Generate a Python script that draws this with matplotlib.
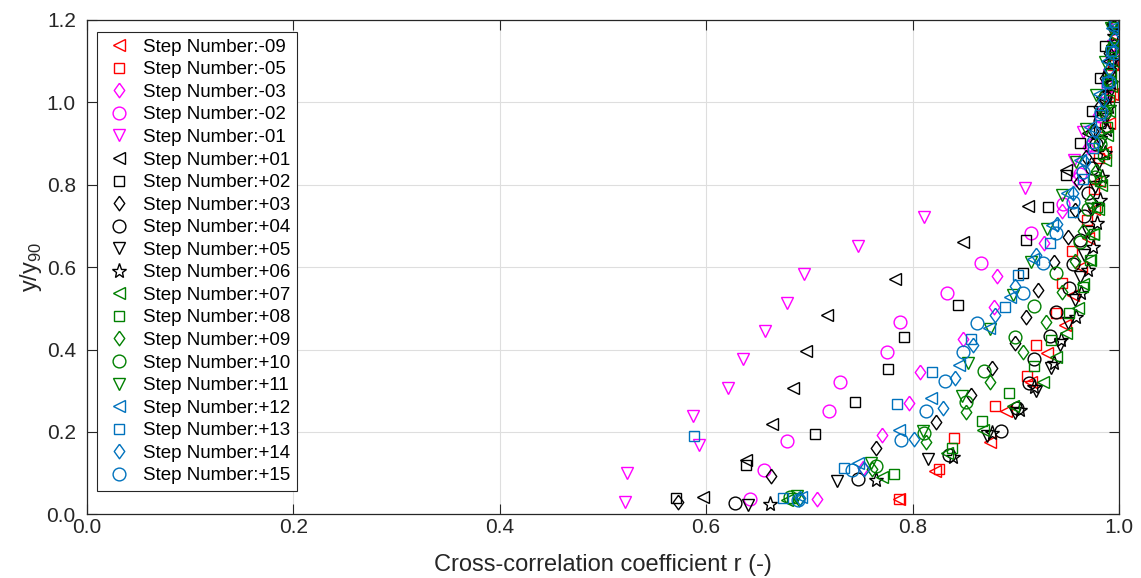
import matplotlib
matplotlib.use("Agg")
import matplotlib.pyplot as plt
from matplotlib.ticker import FormatStrFormatter

plt.rcParams['font.family'] = ['Liberation Sans', 'DejaVu Sans']
plt.rcParams['mathtext.fontset'] = 'custom'
plt.rcParams['mathtext.rm'] = 'Liberation Sans'

# ---- data: cross-correlation coefficient r vs normalised height y/y90 ----
r_m09 = [0.787, 0.822, 0.875, 0.891, 0.915, 0.930, 0.948, 0.955, 0.963, 0.970, 0.976, 0.981, 0.986, 0.990, 0.993, 0.996, 0.997]
y_m09 = [0.036, 0.105, 0.176, 0.251, 0.321, 0.391, 0.460, 0.532, 0.600, 0.670, 0.740, 0.810, 0.880, 0.950, 1.020, 1.090, 1.160]

r_m05 = [0.787, 0.826, 0.840, 0.880, 0.911, 0.920, 0.939, 0.945, 0.954, 0.969, 0.976, 0.981, 0.986, 0.991, 0.994, 0.997]
y_m05 = [0.036, 0.109, 0.186, 0.263, 0.336, 0.411, 0.489, 0.562, 0.638, 0.714, 0.790, 0.865, 0.940, 1.015, 1.090, 1.165]

r_m03 = [0.707, 0.752, 0.770, 0.797, 0.807, 0.849, 0.879, 0.882, 0.927, 0.945, 0.958, 0.970, 0.980, 0.987, 0.992]
y_m03 = [0.037, 0.112, 0.193, 0.270, 0.346, 0.425, 0.503, 0.579, 0.658, 0.736, 0.814, 0.892, 0.970, 1.050, 1.130]

r_m02 = [0.642, 0.656, 0.678, 0.719, 0.730, 0.775, 0.788, 0.833, 0.866, 0.915, 0.946, 0.962, 0.974, 0.983, 0.989, 0.993, 0.996]
y_m02 = [0.036, 0.108, 0.179, 0.251, 0.322, 0.395, 0.466, 0.538, 0.611, 0.682, 0.753, 0.825, 0.897, 0.968, 1.040, 1.110, 1.180]

r_m01 = [0.521, 0.523, 0.593, 0.587, 0.621, 0.636, 0.657, 0.678, 0.695, 0.747, 0.811, 0.909, 0.956, 0.965, 0.985, 0.990, 0.994, 0.996]
y_m01 = [0.031, 0.100, 0.168, 0.239, 0.307, 0.376, 0.445, 0.514, 0.583, 0.652, 0.722, 0.791, 0.860, 0.929, 0.998, 1.067, 1.136, 1.190]

r_p01 = [0.597, 0.639, 0.664, 0.684, 0.697, 0.717, 0.783, 0.849, 0.912, 0.949, 0.970, 0.984, 0.990, 0.994]
y_p01 = [0.043, 0.132, 0.219, 0.307, 0.396, 0.484, 0.571, 0.660, 0.748, 0.836, 0.925, 1.013, 1.100, 1.190]

r_p02 = [0.571, 0.639, 0.705, 0.744, 0.776, 0.792, 0.844, 0.907, 0.910, 0.931, 0.949, 0.962, 0.974, 0.982, 0.986]
y_p02 = [0.039, 0.120, 0.195, 0.273, 0.352, 0.431, 0.508, 0.587, 0.666, 0.747, 0.824, 0.902, 0.980, 1.058, 1.136]

r_p03 = [0.573, 0.663, 0.765, 0.823, 0.857, 0.877, 0.899, 0.910, 0.922, 0.937, 0.951, 0.957, 0.961, 0.968, 0.975, 0.981, 0.986, 0.990, 0.993]
y_p03 = [0.031, 0.094, 0.160, 0.225, 0.290, 0.354, 0.417, 0.480, 0.545, 0.613, 0.674, 0.738, 0.807, 0.868, 0.930, 0.990, 1.060, 1.120, 1.190]

r_p04 = [0.628, 0.747, 0.835, 0.886, 0.901, 0.913, 0.918, 0.933, 0.939, 0.952, 0.955, 0.962, 0.966, 0.970, 0.974, 0.978, 0.982, 0.986, 0.990, 0.993, 0.996]
y_p04 = [0.027, 0.085, 0.143, 0.202, 0.259, 0.318, 0.376, 0.433, 0.492, 0.549, 0.607, 0.665, 0.723, 0.780, 0.840, 0.898, 0.955, 1.013, 1.070, 1.130, 1.190]

r_p05 = [0.641, 0.727, 0.815, 0.872, 0.899, 0.920, 0.934, 0.943, 0.951, 0.957, 0.962, 0.966, 0.970, 0.974, 0.977, 0.980, 0.983, 0.986, 0.989, 0.991, 0.993, 0.995]
y_p05 = [0.023, 0.080, 0.134, 0.190, 0.245, 0.300, 0.354, 0.410, 0.465, 0.520, 0.575, 0.630, 0.685, 0.740, 0.795, 0.850, 0.905, 0.960, 1.015, 1.070, 1.125, 1.180]

r_p06 = [0.662, 0.765, 0.839, 0.877, 0.904, 0.918, 0.937, 0.944, 0.958, 0.963, 0.970, 0.975, 0.979, 0.982, 0.984, 0.986, 0.988, 0.990, 0.992, 0.994, 0.995]
y_p06 = [0.025, 0.083, 0.140, 0.197, 0.253, 0.310, 0.367, 0.423, 0.480, 0.537, 0.593, 0.650, 0.707, 0.763, 0.820, 0.877, 0.933, 0.990, 1.047, 1.103, 1.160]

r_p07 = [0.678, 0.770, 0.833, 0.868, 0.897, 0.926, 0.939, 0.949, 0.960, 0.965, 0.972, 0.975, 0.980, 0.983, 0.986, 0.988, 0.990, 0.992, 0.994, 0.996]
y_p07 = [0.035, 0.090, 0.148, 0.205, 0.262, 0.322, 0.383, 0.440, 0.500, 0.558, 0.617, 0.680, 0.740, 0.800, 0.860, 0.920, 0.980, 1.040, 1.100, 1.160]

r_p08 = [0.683, 0.782, 0.838, 0.867, 0.893, 0.918, 0.934, 0.952, 0.965, 0.972, 0.976, 0.979, 0.982, 0.985, 0.988, 0.990, 0.992, 0.994, 0.995]
y_p08 = [0.039, 0.097, 0.160, 0.226, 0.294, 0.360, 0.423, 0.488, 0.553, 0.617, 0.680, 0.745, 0.810, 0.875, 0.940, 1.005, 1.070, 1.135, 1.195]

r_p09 = [0.690, 0.761, 0.813, 0.852, 0.875, 0.907, 0.929, 0.945, 0.957, 0.965, 0.972, 0.978, 0.982, 0.986, 0.990, 0.993, 0.995]
y_p09 = [0.036, 0.109, 0.176, 0.249, 0.322, 0.395, 0.468, 0.540, 0.614, 0.687, 0.760, 0.833, 0.906, 0.980, 1.050, 1.125, 1.195]

r_p10 = [0.681, 0.765, 0.811, 0.852, 0.869, 0.899, 0.918, 0.939, 0.962, 0.970, 0.977, 0.982, 0.986, 0.990, 0.993]
y_p10 = [0.041, 0.118, 0.197, 0.273, 0.349, 0.430, 0.506, 0.585, 0.662, 0.740, 0.820, 0.898, 0.976, 1.054, 1.130]

r_p11 = [0.688, 0.760, 0.810, 0.848, 0.854, 0.875, 0.897, 0.915, 0.930, 0.945, 0.958, 0.968, 0.978, 0.986, 0.992]
y_p11 = [0.044, 0.124, 0.203, 0.286, 0.367, 0.449, 0.532, 0.613, 0.693, 0.775, 0.855, 0.936, 1.017, 1.097, 1.180]

r_p12 = [0.692, 0.747, 0.787, 0.818, 0.845, 0.874, 0.894, 0.917, 0.935, 0.950, 0.962, 0.972, 0.981, 0.988, 0.993]
y_p12 = [0.041, 0.125, 0.204, 0.283, 0.362, 0.452, 0.528, 0.619, 0.702, 0.780, 0.860, 0.940, 1.020, 1.100, 1.180]

r_p13 = [0.674, 0.734, 0.588, 0.785, 0.819, 0.857, 0.890, 0.902, 0.933, 0.955, 0.965, 0.975, 0.982, 0.988, 0.992, 0.995]
y_p13 = [0.039, 0.113, 0.190, 0.268, 0.346, 0.425, 0.503, 0.580, 0.658, 0.735, 0.813, 0.890, 0.970, 1.050, 1.125, 1.195]

r_p14 = [0.691, 0.753, 0.801, 0.829, 0.841, 0.859, 0.880, 0.899, 0.920, 0.940, 0.955, 0.967, 0.977, 0.985, 0.990, 0.995]
y_p14 = [0.039, 0.110, 0.184, 0.257, 0.330, 0.410, 0.484, 0.555, 0.630, 0.705, 0.780, 0.855, 0.930, 1.005, 1.080, 1.155]

r_p15 = [0.689, 0.741, 0.789, 0.813, 0.831, 0.849, 0.862, 0.907, 0.926, 0.939, 0.955, 0.965, 0.975, 0.983, 0.990, 0.995, 0.997]
y_p15 = [0.035, 0.108, 0.180, 0.251, 0.324, 0.395, 0.465, 0.538, 0.611, 0.684, 0.757, 0.830, 0.903, 0.976, 1.050, 1.120, 1.190]

labels = ["Step Number:-09", "Step Number:-05", "Step Number:-03", "Step Number:-02",
          "Step Number:-01", "Step Number:+01", "Step Number:+02", "Step Number:+03",
          "Step Number:+04", "Step Number:+05", "Step Number:+06", "Step Number:+07",
          "Step Number:+08", "Step Number:+09", "Step Number:+10", "Step Number:+11",
          "Step Number:+12", "Step Number:+13", "Step Number:+14", "Step Number:+15"]

series = [(r_m09, y_m09), (r_m05, y_m05), (r_m03, y_m03), (r_m02, y_m02), (r_m01, y_m01),
          (r_p01, y_p01), (r_p02, y_p02), (r_p03, y_p03), (r_p04, y_p04), (r_p05, y_p05),
          (r_p06, y_p06), (r_p07, y_p07), (r_p08, y_p08), (r_p09, y_p09), (r_p10, y_p10),
          (r_p11, y_p11), (r_p12, y_p12), (r_p13, y_p13), (r_p14, y_p14), (r_p15, y_p15)]

# ---- styling ----
RED, MAG, BLK, GRN, BLU = '#FF0000', '#FF00FF', '#000000', '#008000', '#0072BD'
colors = [RED, RED, MAG, MAG, MAG,
          BLK, BLK, BLK, BLK, BLK, BLK,
          GRN, GRN, GRN, GRN, GRN,
          BLU, BLU, BLU, BLU]

diamond = [(0, 1), (0.72, 0), (0, -1), (-0.72, 0), (0, 1)]
mk = {'<': ('<', 9.0), 's': ('s', 7.8), 'd': (diamond, 10.5), 'o': ('o', 9.2),
      'v': ('v', 9.0), 'p': ('*', 11.0)}
markers = ['<', 's', 'd', 'o', 'v',
           '<', 's', 'd', 'o', 'v', 'p',
           '<', 's', 'd', 'o', 'v',
           '<', 's', 'd', 'o']

fig = plt.figure(figsize=(11.41, 5.78), dpi=100)
ax = fig.add_axes([0.0762, 0.1102, 0.9045, 0.8552])

for (r, yy), lab, c, m in zip(series, labels, colors, markers):
    shape, size = mk[m]
    ax.plot(r, yy, linestyle='none', marker=shape, markersize=size,
            markerfacecolor='none', markeredgecolor=c, markeredgewidth=1.0,
            label=lab, clip_on=True)

ax.set_xlim(0, 1)
ax.set_ylim(0, 1.2)
ax.set_xticks([0, 0.2, 0.4, 0.6, 0.8, 1.0])
ax.set_yticks([0, 0.2, 0.4, 0.6, 0.8, 1.0, 1.2])
ax.xaxis.set_major_formatter(FormatStrFormatter('%.1f'))
ax.yaxis.set_major_formatter(FormatStrFormatter('%.1f'))

axis_gray = '#262626'
ax.grid(True, color='#dedede', linewidth=0.8)
ax.set_axisbelow(True)
ax.tick_params(direction='in', length=7, width=0.8, top=True, right=True,
               labelsize=15, colors=axis_gray)
ax.tick_params(axis='x', pad=3)
ax.tick_params(axis='y', pad=8)
for s in ax.spines.values():
    s.set_color(axis_gray)
    s.set_linewidth(0.9)

ax.set_xlabel('Cross-correlation coefficient r (-)', fontsize=17, color=axis_gray, labelpad=12)
ax.set_ylabel(r'y/y$_{\mathregular{90}}$', fontsize=17, color=axis_gray, labelpad=2)

leg = ax.legend(loc='upper left', bbox_to_anchor=(0.0097, 0.9757), borderaxespad=0,
                fontsize=13.5, frameon=True, fancybox=False, framealpha=1,
                edgecolor=axis_gray, labelspacing=0.29, handlelength=1.6,
                handletextpad=0.5, borderpad=0.35)
leg.get_frame().set_linewidth(0.8)

fig.savefig('out.png', dpi=100)
